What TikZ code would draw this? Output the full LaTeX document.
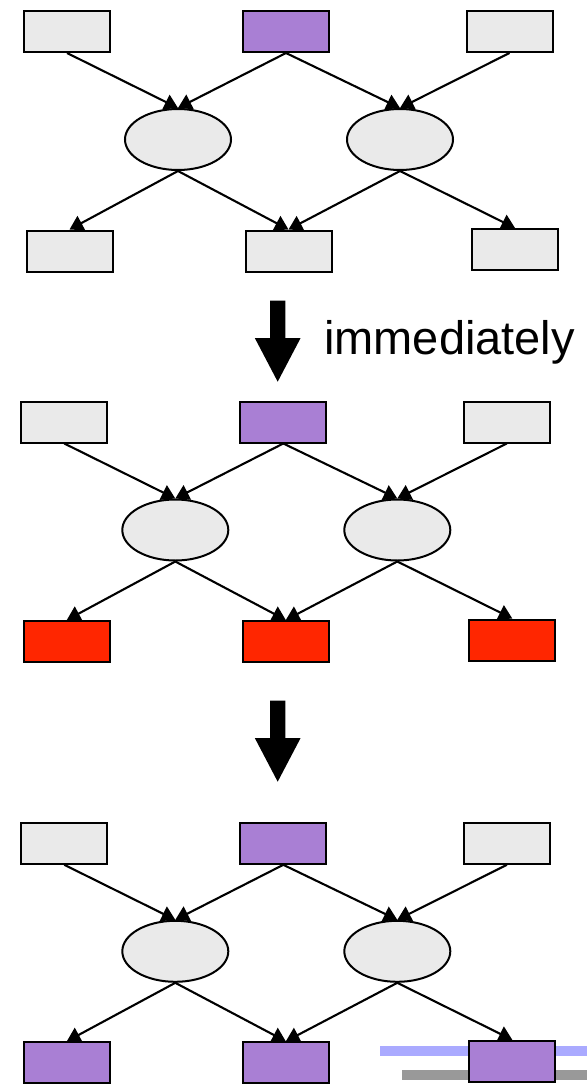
\documentclass[tikz,border=0pt]{standalone}
\usepackage{fontspec}
\setmainfont{Liberation Sans}
\usetikzlibrary{arrows.meta,shapes.geometric,backgrounds}
\definecolor{boxgray}{HTML}{EAEAEA}
\definecolor{purp}{HTML}{A97FD4}
\definecolor{hot}{HTML}{FF2600}
\definecolor{barblue}{HTML}{AAAAFF}
\definecolor{bargray}{HTML}{999999}
\tikzset{
  box/.style={draw=black, line width=2pt, rectangle, minimum width=86pt, minimum height=41pt, inner sep=0pt, fill=boxgray},
  oval/.style={draw=black, line width=2pt, ellipse, minimum width=106pt, minimum height=61pt, inner sep=0pt, fill=boxgray},
  edgeline/.style={line width=2.1pt, -{Triangle[length=13.5pt,width=16pt]}},
  blockarrow/.style={fill=black},
  caption/.style={anchor=base west, inner sep=0pt, font=\fontsize{47pt}{56pt}\selectfont}
}
\newcommand\dagpanel[4]{%
  \begin{scope}[shift={(#2,#3)}]
    \node[box] (#1t1) at (67,31.5) {};
    \node[box,fill=purp] (#1t2) at (286,31.5) {};
    \node[box] (#1t3) at (509.5,31.5) {};
    \node[oval] (#1e1) at (178,139.5) {};
    \node[oval] (#1e2) at (400,139.5) {};
    \node[box,fill=#4] (#1b1) at (69.5,251) {};
    \node[box,fill=#4] (#1b2) at (288.5,251) {};
    \node[box,fill=#4] (#1b3) at (515,249.5) {};
  \end{scope}
  \begin{scope}[on background layer]
    \draw[edgeline] (#1t1.south) -- (#1e1.north);
    \draw[edgeline] (#1t2.south) -- (#1e1.north);
    \draw[edgeline] (#1t2.south) -- (#1e2.north);
    \draw[edgeline] (#1t3.south) -- (#1e2.north);
    \draw[edgeline] (#1e1.south) -- (#1b1.north);
    \draw[edgeline] (#1e1.south) -- (#1b2.north);
    \draw[edgeline] (#1e2.south) -- (#1b2.north);
    \draw[edgeline] (#1e2.south) -- (#1b3.north);
  \end{scope}}
\newcommand\blockdown[1]{%
  \fill[blockarrow] (270,#1) -- (285.4,#1) -- (285.4,#1+37.5) -- (300.5,#1+37.5)
    -- (277.7,#1+81) -- (254.9,#1+37.5) -- (270,#1+37.5) -- cycle;}
\begin{document}
\begin{tikzpicture}[x=1pt,y=-1pt]
  \useasboundingbox (0,0) rectangle (587,1084);
  % panel 1
  \dagpanel{a}{0}{0}{boxgray}
  % arrow 1 and caption
  \blockdown{300.7}
  \node[caption] (lbl) at (324,354) {immediately};
  % panel 2
  \dagpanel{b}{-2.7}{390.5}{hot}
  % arrow 2
  \blockdown{700.7}
  % bars behind last box
  \begin{scope}[on background layer]
    \fill[barblue] (379.7,1046.3) rectangle (587,1055.7);
    \fill[bargray] (402.3,1069.5) rectangle (587,1080);
  \end{scope}
  % panel 3
  \dagpanel{c}{-2.7}{811.8}{purp}
\end{tikzpicture}
\end{document}
